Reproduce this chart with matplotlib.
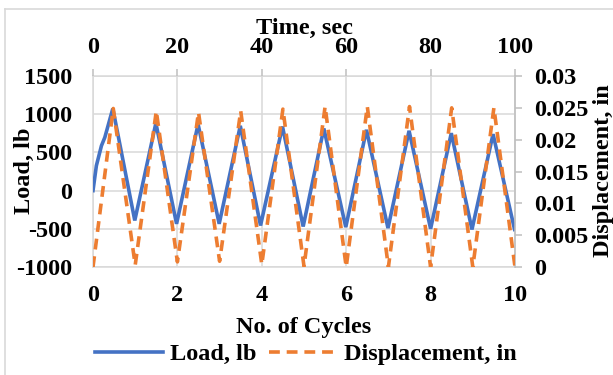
import matplotlib
matplotlib.use("Agg")
import matplotlib.pyplot as plt
from matplotlib.lines import Line2D

# Load history (cycle number, lb)
load_cycles = [0, 0.08, 0.2, 0.28, 0.47, 0.99, 1.49, 1.98, 2.49, 2.99, 3.49, 3.97,
               4.49, 4.98, 5.47, 5.99, 6.48, 6.99, 7.49, 8.0, 8.49, 8.98, 9.48, 9.99]
load_lb = [0, 326, 587, 696, 1074, -391, 883, -435, 870, -435, 848, -457,
           839, -470, 813, -478, 796, -491, 783, -500, 752, -509, 739, -509]

# Displacement history (cycle number, in)
disp_cycles = [0, 0.48, 1.0, 1.5, 2.0, 2.5, 3.0, 3.5, 4.0, 4.5, 5.0,
               5.5, 6.0, 6.5, 7.0, 7.5, 8.0, 8.5, 9.0, 9.5, 10.0]
disp_in = [0, 0.0249, 0.0003, 0.0245, 0.0008, 0.0243, 0.0009, 0.0245, 0.0004, 0.0248, 0.0001,
           0.0252, 0.0, 0.0252, 0.0, 0.0252, 0.0, 0.025, 0.0, 0.025, 0.0]

load_ticks = [-1000, -500, 0, 500, 1000, 1500]
disp_ticks = [0, 0.005, 0.01, 0.015, 0.02, 0.025, 0.03]
disp_tick_labels = ["0", "0.005", "0.01", "0.015", "0.02", "0.025", "0.03"]
cycle_ticks = [0, 2, 4, 6, 8, 10]
time_ticks = [0, 20, 40, 60, 80, 100]

BLUE = "#4472C4"
ORANGE = "#ED7D31"
GRID = "#D9D9D9"
AXIS = "#BFBFBF"

plt.rcParams["font.family"] = ["Liberation Serif", "DejaVu Serif"]
plt.rcParams["font.weight"] = "bold"
plt.rcParams["axes.unicode_minus"] = False
FS = 17.5
DASH = (3.0, 1.9)

W, H = 613, 375
fig = plt.figure(figsize=(W / 100, H / 100), dpi=100)

x0, x1, ytop, ybot = 93, 515, 76, 267
ax = fig.add_axes([x0 / W, 1 - ybot / H, (x1 - x0) / W, (ybot - ytop) / H])

# chart frame
fig.add_artist(Line2D([5 / W, 5 / W], [0, 1 - 9 / H], color=GRID, lw=1.2))
fig.add_artist(Line2D([5 / W, 1], [1 - 9 / H, 1 - 9 / H], color=GRID, lw=1.2))

ax.plot(load_cycles, load_lb, color=BLUE, lw=2.6, solid_joinstyle="miter", zorder=3)
ax.set_xlim(0, 10)
ax.set_ylim(-1000, 1500)
ax.set_xticks(cycle_ticks)
ax.set_yticks(load_ticks)
ax.grid(True, color=GRID, lw=1.1, zorder=0)
ax.set_axisbelow(True)
ax.tick_params(axis="both", length=0, labelsize=FS)
ax.tick_params(axis="y", pad=15)
ax.tick_params(axis="x", pad=13)
for s in ax.spines.values():
    s.set_color(GRID)
    s.set_linewidth(1.1)

ax2 = ax.twinx()
ax2.plot(disp_cycles, disp_in, color=ORANGE, lw=2.6, dashes=DASH, zorder=4)
ax2.set_ylim(0, 0.03)
ax2.set_yticks(disp_ticks)
ax2.set_yticklabels(disp_tick_labels)
ax2.tick_params(axis="y", length=5, width=1.1, color=AXIS, labelsize=FS, pad=9)
for s in ax2.spines.values():
    s.set_visible(False)
ax2.spines["right"].set_visible(True)
ax2.spines["right"].set_color(AXIS)
ax2.spines["right"].set_linewidth(1.1)

ax3 = ax.twiny()
ax3.set_xlim(0, 100)
ax3.set_xticks(time_ticks)
ax3.tick_params(axis="x", length=5, width=1.1, color=AXIS, labelsize=FS, pad=8)
for s in ax3.spines.values():
    s.set_visible(False)

fig.text(304 / W, 1 - 28 / H, "Time, sec", ha="center", va="center", fontsize=FS, fontweight="bold")
fig.text(304 / W, 1 - 328 / H, "No. of Cycles", ha="center", va="center", fontsize=FS, fontweight="bold")
fig.text(24 / W, 1 - 171 / H, "Load, lb", ha="center", va="center", rotation=90,
         fontsize=FS, fontweight="bold")
fig.text(603 / W, 1 - 171 / H, "Displacement, in", ha="center", va="center", rotation=90,
         fontsize=FS, fontweight="bold")

handles = [Line2D([], [], color=BLUE, lw=2.6),
           Line2D([], [], color=ORANGE, lw=2.6, dashes=DASH)]
fig.legend(handles, ["Load, lb", "Displacement, in"], loc="center",
           bbox_to_anchor=(306 / W, 1 - 354 / H), ncol=2, frameon=False,
           fontsize=FS, handlelength=2.8, handletextpad=0.3, columnspacing=0.5,
           borderpad=0, borderaxespad=0)

fig.savefig("out.png", dpi=100)
